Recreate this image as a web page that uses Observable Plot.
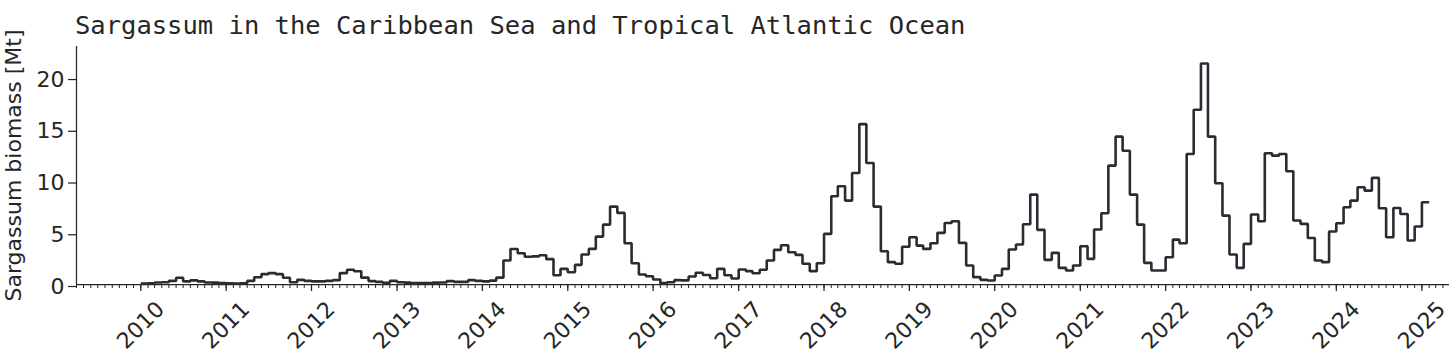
<!DOCTYPE html>
<html>
<head>
<meta charset="utf-8">
<script src="https://cdn.jsdelivr.net/npm/d3@7"></script>
<script src="https://cdn.jsdelivr.net/npm/@observablehq/plot@0.6"></script>
<style>
  html, body { margin: 0; padding: 0; background: white; overflow: hidden; }
  #wrap { position: relative; width: 1449px; height: 360px; }
  #title { position: absolute; left: 75px; top: 13px; z-index: 2; font-family: "DejaVu Sans Mono", monospace; font-size: 25.5px; line-height: 25px; color: #262626; white-space: pre; }
  #chart { position: absolute; left: 0; top: 0; }
</style>
</head>
<body>
<div id="wrap">
  <div id="chart"></div>
  <div id="title">Sargassum in the Caribbean Sea and Tropical Atlantic Ocean</div>
</div>
<script>
// Monthly Sargassum biomass [Mt], January to December of each year
const y2010 = [0.08, 0.12, 0.2, 0.22, 0.35, 0.65, 0.3, 0.4, 0.3, 0.2, 0.18, 0.15];
const y2011 = [0.12, 0.1, 0.12, 0.35, 0.7, 1.0, 1.1, 1.0, 0.65, 0.22, 0.45, 0.35];
const y2012 = [0.3, 0.3, 0.35, 0.42, 1.1, 1.42, 1.28, 0.66, 0.33, 0.25, 0.16, 0.35];
const y2013 = [0.22, 0.18, 0.15, 0.15, 0.15, 0.18, 0.2, 0.33, 0.25, 0.25, 0.42, 0.35];
const y2014 = [0.3, 0.37, 0.66, 2.32, 3.43, 3.02, 2.68, 2.72, 2.82, 2.45, 0.9, 1.51];
const y2015 = [1.19, 1.9, 2.9, 3.44, 4.63, 5.79, 7.53, 6.92, 3.99, 2.06, 0.97, 0.8];
const y2016 = [0.48, 0.13, 0.22, 0.42, 0.4, 0.78, 1.13, 0.92, 0.61, 1.51, 0.9, 0.58];
const y2017 = [1.45, 1.29, 1.09, 1.42, 2.32, 3.35, 3.8, 3.12, 2.86, 2.0, 1.29, 2.06];
const y2018 = [4.89, 8.53, 9.49, 8.11, 10.78, 15.5, 11.74, 7.53, 3.22, 2.16, 2.0, 3.65];
const y2019 = [4.57, 3.76, 3.44, 3.99, 4.99, 5.95, 6.11, 4.02, 1.83, 0.71, 0.45, 0.39];
const y2020 = [0.87, 1.51, 3.38, 3.86, 5.82, 8.69, 5.28, 2.38, 3.06, 1.61, 1.35, 1.83];
const y2021 = [3.7, 2.48, 5.31, 6.89, 11.49, 14.29, 12.93, 8.69, 5.79, 2.09, 1.35, 1.35];
const y2022 = [2.64, 4.34, 3.99, 12.61, 16.89, 21.36, 14.29, 9.78, 6.66, 2.9, 1.61, 3.93];
const y2023 = [6.76, 6.11, 12.68, 12.45, 12.61, 10.94, 6.18, 5.86, 4.5, 2.32, 2.16, 5.12];
const y2024 = [5.92, 7.46, 8.11, 9.4, 9.07, 10.3, 7.37, 4.57, 7.4, 6.82, 4.25, 5.6];
const y2025 = [7.95];

const yearLabels = [2010, 2011, 2012, 2013, 2014, 2015, 2016, 2017, 2018, 2019, 2020, 2021, 2022, 2023, 2024, 2025];
const yTicks = [0, 5, 10, 15, 20];
const yLabel = "Sargassum biomass [Mt]";

const values = [].concat(y2010, y2011, y2012, y2013, y2014, y2015, y2016, y2017,
  y2018, y2019, y2020, y2021, y2022, y2023, y2024, y2025);
const start = new Date(Date.UTC(2010, 0, 1));
const series = values.map((v, i) => ({date: d3.utcMonth.offset(start, i), value: v}));
// closing edge of the last monthly step
series.push({date: d3.utcMonth.offset(start, values.length), value: values[values.length - 1]});

const xStart = new Date(Date.UTC(2009, 3, 1));
const xEnd = new Date(Date.UTC(2025, 3, 29));
const monthTicks = d3.utcMonth.range(xStart, xEnd);
const yearTicks = yearLabels.map(y => new Date(Date.UTC(y, 0, 1)));

const ink = "#262626";
const fs = 22;

const chart = Plot.plot({
  width: 1449,
  height: 360,
  marginTop: 46,
  marginBottom: 76,
  marginLeft: 76,
  marginRight: 0,
  style: {fontFamily: "DejaVu Sans", fontSize: fs + "px", color: ink, background: "white"},
  x: {type: "utc", domain: [xStart, xEnd], axis: null},
  y: {domain: [0, 23], axis: null},
  marks: [
    Plot.axisX(monthTicks, {tickSize: 4, fill: "none", stroke: ink, strokeWidth: 1, label: null}),
    Plot.axisX(yearTicks, {tickSize: 7, fill: "none", stroke: ink, strokeWidth: 1.25, label: null}),
    Plot.text(yearLabels, {
      x: d => new Date(Date.UTC(d, 0, 1)),
      text: d => String(d),
      frameAnchor: "bottom",
      dy: 41,
      rotate: -45,
      textAnchor: "middle",
      lineAnchor: "middle",
      fontSize: fs,
      fill: ink
    }),
    Plot.axisY(yTicks, {tickSize: 8, tickPadding: 4, stroke: ink, strokeWidth: 1.25, fill: ink, fontSize: fs, dy: 2, label: null, tickFormat: d => String(d)}),
    Plot.text([yLabel], {
      frameAnchor: "left",
      dx: -63,
      rotate: -90,
      textAnchor: "middle",
      lineAnchor: "middle",
      fontSize: fs,
      fill: ink
    }),
    Plot.ruleX([xStart], {stroke: ink, strokeWidth: 1.25}),
    Plot.ruleY([0], {stroke: ink, strokeWidth: 1.25}),
    Plot.lineY(series, {
      x: "date",
      y: "value",
      curve: "step-after",
      stroke: "#2a2c33",
      strokeWidth: 2.6,
      strokeLinejoin: "miter",
      strokeLinecap: "butt"
    })
  ]
});
document.getElementById("chart").appendChild(chart);
</script>
</body>
</html>
